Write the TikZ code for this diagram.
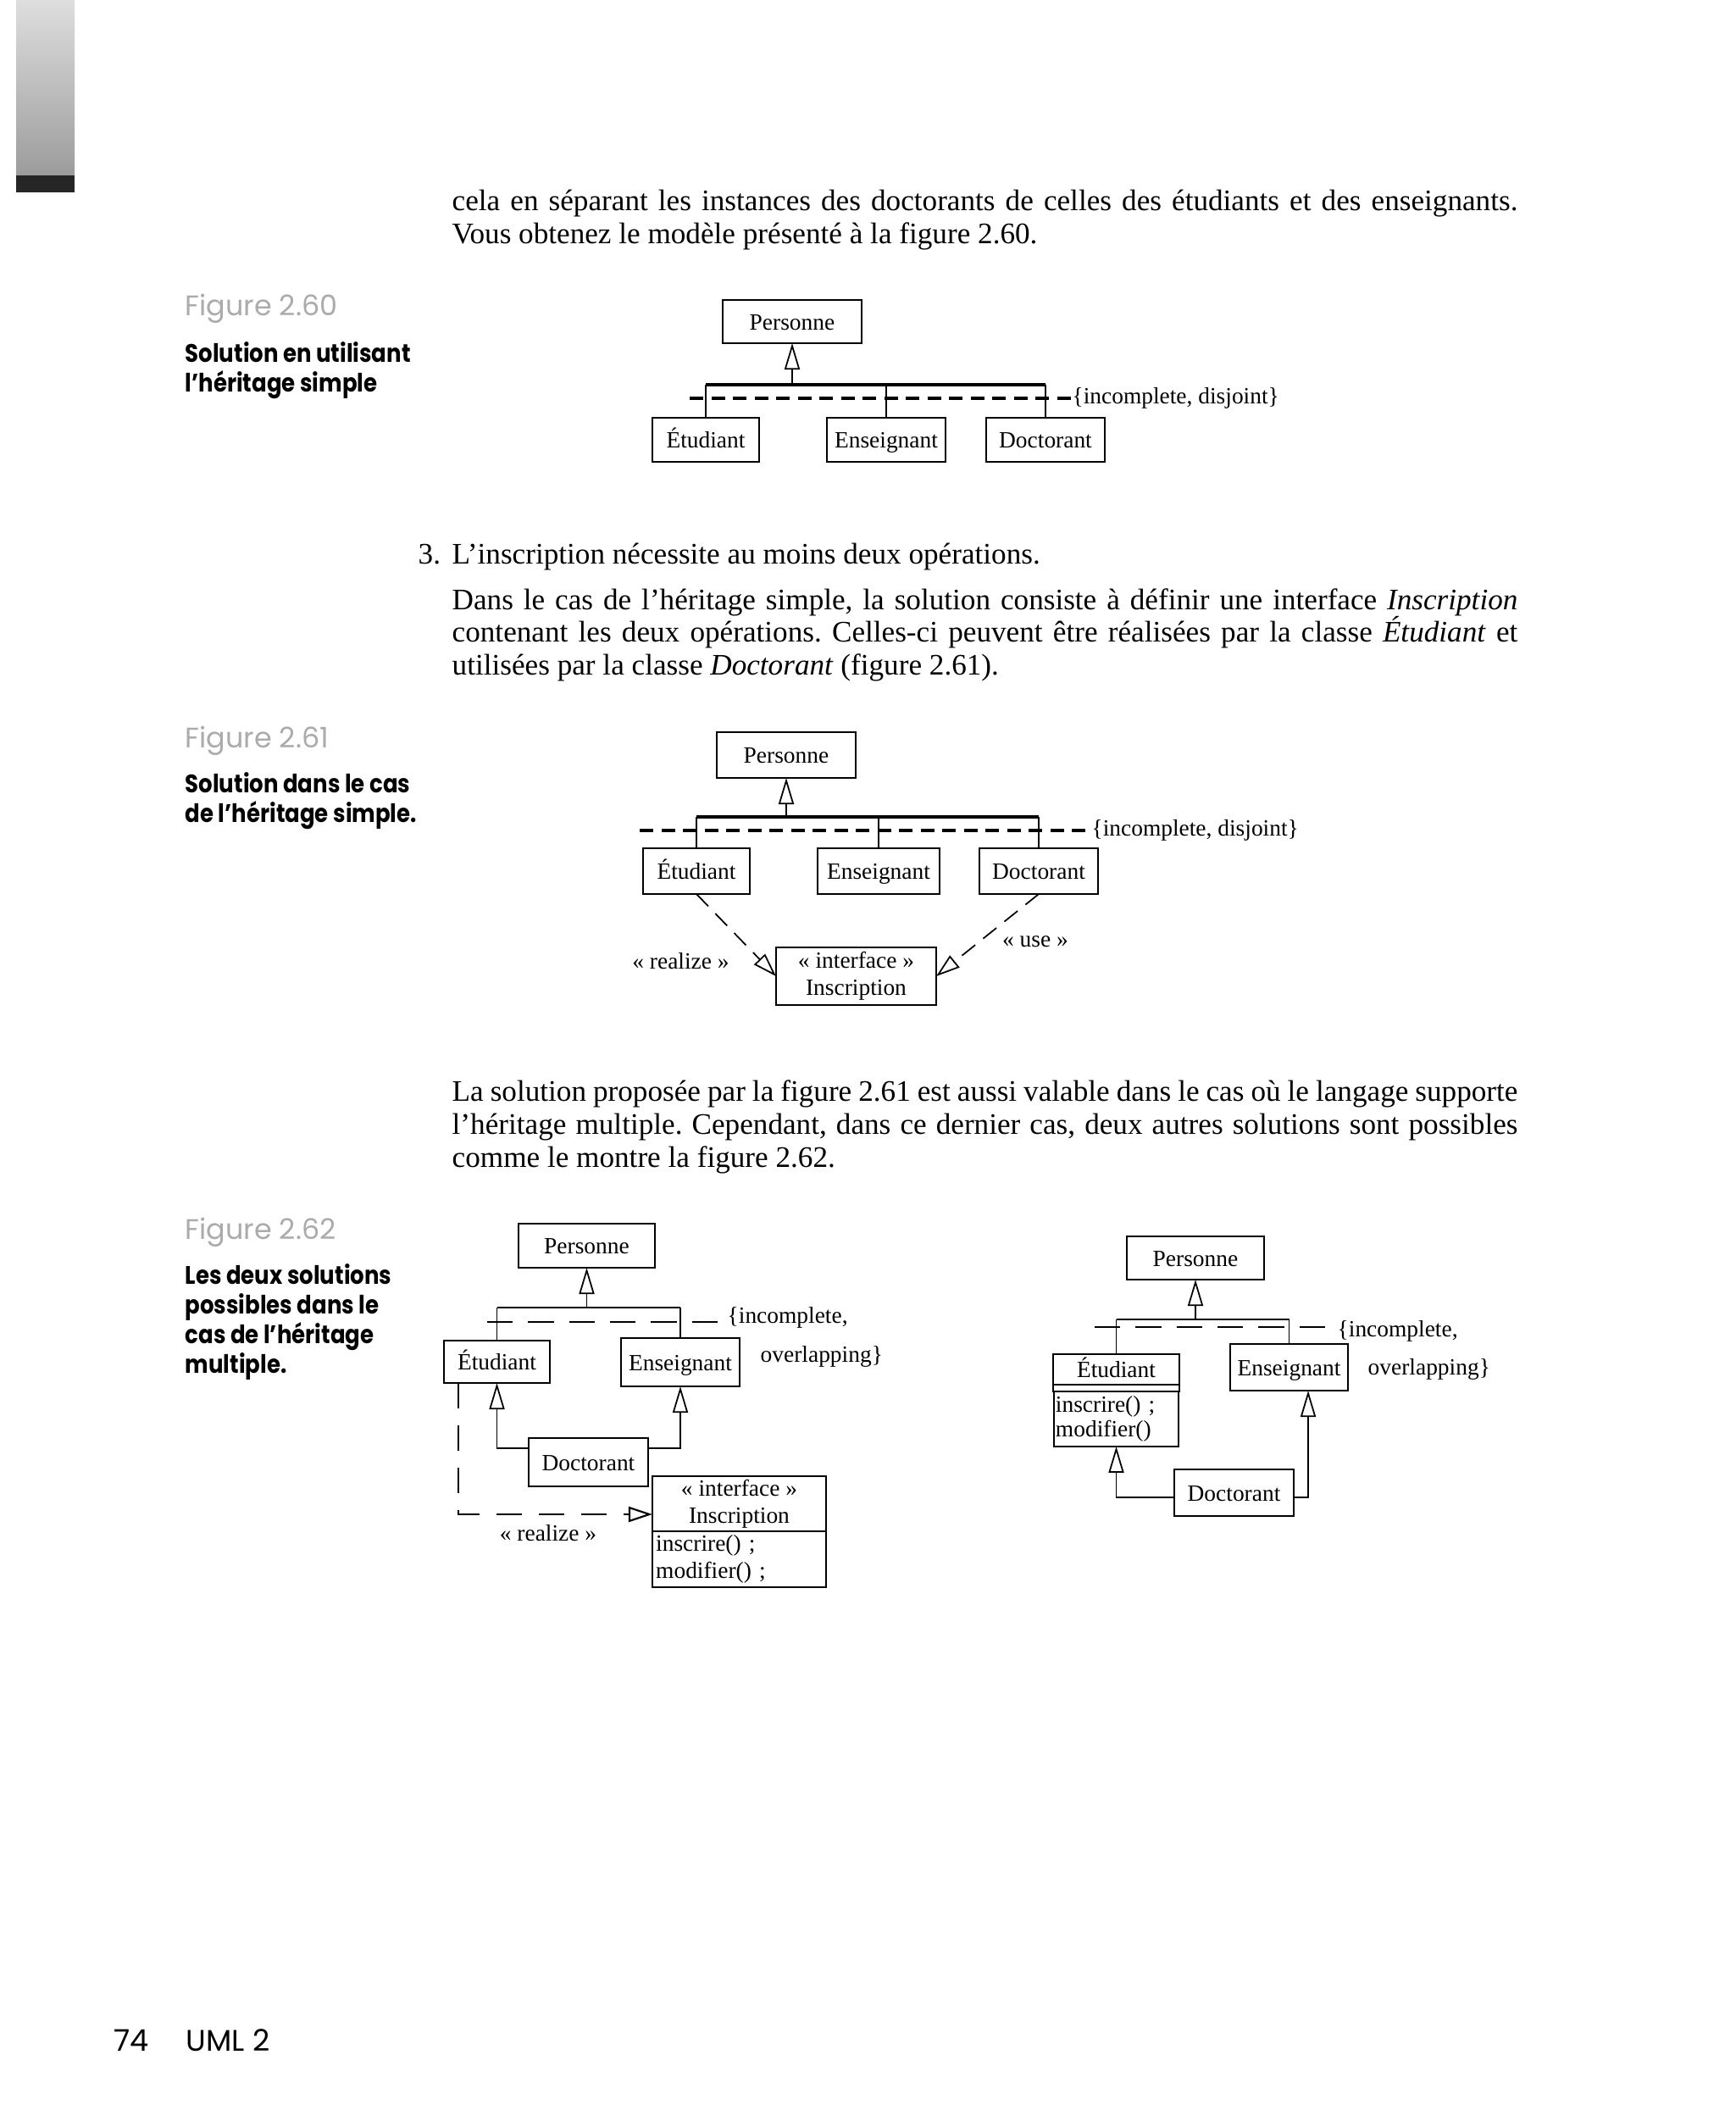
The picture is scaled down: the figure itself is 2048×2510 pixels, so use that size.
\documentclass[tikz,border=0pt]{standalone}
\usepackage{fontspec}
\setmainfont{Liberation Serif}
\newfontfamily\sidefont{Poppins}
\newfontfamily\capfont{Poppins}[FakeStretch=0.87]
\usetikzlibrary{arrows.meta,positioning}
\definecolor{figgray}{HTML}{ABABAB}
\definecolor{bartop}{HTML}{DEDEDE}
\definecolor{barbot}{HTML}{9C9C9C}
\frenchspacing

% one justified line of body text
\newcommand{\jline}[1]{\makebox[12.57cm][s]{#1}}

\begin{document}
\begin{tikzpicture}[x=0.01cm,y=-0.01cm,
    body/.style={anchor=base west, inner sep=0pt, font=\fontsize{10}{12}\selectfont},
    figlabel/.style={anchor=base west, inner sep=0pt, text=figgray, font=\sidefont\fontsize{9.5}{11}\selectfont},
    figcap/.style={anchor=base west, inner sep=0pt, font=\capfont\bfseries\fontsize{8.5}{10}\selectfont},
    footer/.style={anchor=base west, inner sep=0pt, font=\sidefont\fontsize{10}{12}\selectfont},
    cls/.style={draw, line width=0.7pt, inner sep=1pt, outer sep=0pt, align=center, font=\fontsize{7.8}{9.1}\selectfont},
    one/.style={cls, text height=1.6ex, text depth=0.4ex},
    ops/.style={cls, align=left, inner sep=1.2pt},
    lbl/.style={inner sep=0pt, font=\fontsize{7.8}{9.1}\selectfont},
    gen/.style={line width=0.5pt, -{Triangle[open, length=0.31cm, width=0.18cm]}},
    bar/.style={line width=1pt},
    thinbar/.style={line width=0.6pt},
    tree/.style={line width=0.5pt},
    constr/.style={line width=0.9pt, dash pattern=on 0.16cm off 0.095cm},
    constrlong/.style={line width=0.7pt, dash pattern=on 0.302cm off 0.181cm},
    real/.style={line width=0.5pt, dash pattern=on 0.2cm off 0.12cm, -{Triangle[open, length=0.28cm, width=0.18cm]}},
    reallong/.style={line width=0.6pt, dash pattern=on 0.3cm off 0.2cm, -{Triangle[open, length=0.28cm, width=0.18cm]}},
]
    \useasboundingbox[fill=white] (0,0) rectangle (2048,2510);

    % Page tab
    \shade[top color=bartop, bottom color=barbot] (19,0) rectangle (88,207);
    \fill[black!85] (19,207) rectangle (88,227);

    % Body text
    \node[body] (t1) at (533,249) {\jline{cela en séparant les instances des doctorants de celles des étudiants et des enseignants.}};
    \node[body] (t2) at (533,288) {Vous obtenez le modèle présenté à la figure 2.60.};
    \node[body] (n3) at (493,666) {3.};
    \node[body] (t3) at (533,666) {L’inscription nécessite au moins deux opérations.};
    \node[body] (t4) at (533,719) {\jline{Dans le cas de l’héritage simple, la solution consiste à définir une interface \textit{Inscription}}};
    \node[body] (t5) at (533,758) {\jline{contenant les deux opérations. Celles-ci peuvent être réalisées par la classe \textit{Étudiant} et}};
    \node[body] (t6) at (533,797) {utilisées par la classe \textit{Doctorant} (figure 2.61).};
    \node[body] (t7) at (533,1299) {\jline{La solution proposée par la figure 2.61 est aussi valable dans le cas où le langage supporte}};
    \node[body] (t8) at (533,1338) {\jline{l’héritage multiple. Cependant, dans ce dernier cas, deux autres solutions sont possibles}};
    \node[body] (t9) at (533,1377) {comme le montre la figure 2.62.};

    % Side captions
    \node[figlabel] (f60) at (218,373) {Figure 2.60};
    \node[figcap] (c60a) at (218,428) {Solution en utilisant};
    \node[figcap] (c60b) at (218,463) {l’héritage simple};
    \node[figlabel] (f61) at (218,882) {Figure 2.61};
    \node[figcap] (c61a) at (218,935) {Solution dans le cas};
    \node[figcap] (c61b) at (218,970) {de l’héritage simple.};
    \node[figlabel] (f62) at (218,1462) {Figure 2.62};
    \node[figcap] (c62a) at (218,1515) {Les deux solutions};
    \node[figcap] (c62b) at (218,1550) {possibles dans le};
    \node[figcap] (c62c) at (218,1585) {cas de l’héritage};
    \node[figcap] (c62d) at (218,1620) {multiple.};

    % Figure 2.60
    \node[one, minimum width=1.64cm, minimum height=0.51cm] (p60) at (935,379.5) {Personne};
    \node[one, minimum width=1.26cm, minimum height=0.52cm] (e60) at (833,519) {Étudiant};
    \node[one, minimum width=1.40cm, minimum height=0.52cm] (n60) at (1046,519) {Enseignant};
    \node[one, minimum width=1.40cm, minimum height=0.52cm] (d60) at (1234,519) {Doctorant};
    \coordinate (b60) at (935,454);
    \draw[gen] (b60) -- (p60);
    \draw[bar] (e60.north |- b60) -- (d60.north |- b60);
    \draw[tree] (e60.north |- b60) -- (e60.north);
    \draw[tree] (n60.north |- b60) -- (n60.north);
    \draw[tree] (d60.north |- b60) -- (d60.north);
    \coordinate (k60) at (814,470);
    \draw[constr] (k60) -- (1264,470) node[right, lbl] (g60) {\{incomplete, disjoint\}};

    % Figure 2.61
    \node[one, minimum width=1.64cm, minimum height=0.54cm] (p61) at (928,891) {Personne};
    \node[one, minimum width=1.26cm, minimum height=0.54cm] (e61) at (822,1028) {Étudiant};
    \node[one, minimum width=1.44cm, minimum height=0.54cm] (n61) at (1037,1028) {Enseignant};
    \node[one, minimum width=1.40cm, minimum height=0.54cm] (d61) at (1226,1028) {Doctorant};
    \node[cls, minimum width=1.89cm, minimum height=0.68cm] (i61) at (1010.5,1152) {« interface »\\Inscription};
    \coordinate (b61) at (928,964);
    \draw[gen] (b61) -- (p61);
    \draw[bar] (e61.north |- b61) -- (d61.north |- b61);
    \draw[tree] (e61.north |- b61) -- (e61.north);
    \draw[tree] (n61.north |- b61) -- (n61.north);
    \draw[tree] (d61.north |- b61) -- (d61.north);
    \coordinate (k61) at (755,980);
    \draw[constr] (k61) -- (1287,980) node[right, lbl] (g61) {\{incomplete, disjoint\}};
    \draw[real] (e61.south) -- (i61.west);
    \draw[real] (d61.south) -- (i61.east);
    \node[lbl] (r61) at (803.5,1134) {« realize »};
    \node[lbl] (u61) at (1222,1111) {« use »};

    % Figure 2.62, first solution
    \node[one, minimum width=1.61cm, minimum height=0.52cm] (p62) at (692.5,1470) {Personne};
    \node[one, minimum width=1.25cm, minimum height=0.50cm] (e62) at (586.5,1607) {Étudiant};
    \node[one, minimum width=1.40cm, minimum height=0.57cm] (n62) at (803,1607.5) {Enseignant};
    \node[one, minimum width=1.41cm, minimum height=0.57cm] (d62) at (694.5,1725.5) {Doctorant};
    \node[cls, minimum width=2.05cm, minimum height=0.65cm] (i62) at (872.5,1774.5) {« interface »\\Inscription};
    \node[ops, text width=1.965cm, minimum height=0.66cm, below=0pt of i62] (o62) {inscrire() ;\\modifier() ;};
    \coordinate (b62) at (692.5,1543);
    \draw[gen] (b62) -- (p62);
    \draw[thinbar] (e62.north |- b62) -- (n62.north |- b62);
    \draw[tree] (e62.north |- b62) -- (e62.north);
    \draw[tree] (n62.north |- b62) -- (n62.north);
    \coordinate (k62) at (575,1560);
    \draw[constrlong] (k62) -- (847,1560);
    \node[lbl, anchor=west] (g62a) at (858,1555) {\{incomplete,};
    \node[lbl, anchor=west] (g62b) at (897,1601) {overlapping\}};
    \draw[gen] ([yshift=0.165cm]d62.west) -| (e62.south);
    \draw[gen] ([yshift=0.165cm]d62.east) -| (n62.south);
    \draw[reallong] ([xshift=-0.455cm]e62.south) |- ([yshift=-0.125cm]i62.west);
    \node[lbl] (r62) at (647,1809) {« realize »};

    % Figure 2.62, second solution
    \node[one, minimum width=1.62cm, minimum height=0.51cm] (q62) at (1411,1484.5) {Personne};
    \node[one, minimum width=1.49cm, minimum height=0.34cm, inner sep=0.5pt] (s62) at (1317.5,1616) {Étudiant};
    \node[cls, minimum width=1.49cm, minimum height=0.08cm, inner sep=0pt, below=0pt of s62] (a62) {};
    \node[ops, text width=1.43cm, minimum height=0.65cm, inner sep=0.5pt, font=\fontsize{7.8}{8.5}\selectfont, below=0pt of a62] (m62) {inscrire() ;\\modifier()};
    \node[one, minimum width=1.39cm, minimum height=0.55cm] (h62) at (1521.5,1613.5) {Enseignant};
    \node[one, minimum width=1.41cm, minimum height=0.55cm] (x62) at (1456.5,1761.5) {Doctorant};
    \coordinate (c62) at (1411,1557);
    \draw[gen] (c62) -- (q62);
    \draw[thinbar] (s62.north |- c62) -- (h62.north |- c62);
    \draw[tree] (s62.north |- c62) -- (s62.north);
    \draw[tree] (h62.north |- c62) -- (h62.north);
    \coordinate (j62) at (1292,1566);
    \draw[constrlong] (j62) -- (1565,1566);
    \node[lbl, anchor=west] (w62a) at (1578,1571) {\{incomplete,};
    \node[lbl, anchor=west] (w62b) at (1614,1616) {overlapping\}};
    \draw[gen] ([yshift=-0.055cm]x62.west) -| (m62.south);
    \draw[gen] ([yshift=-0.055cm]x62.east) -| ([xshift=0.225cm]h62.south);

    % Footer
    \node[footer] (pg) at (134,2420) {74};
    \node[footer] (bk) at (219,2420) {UML 2};
\end{tikzpicture}
\end{document}
